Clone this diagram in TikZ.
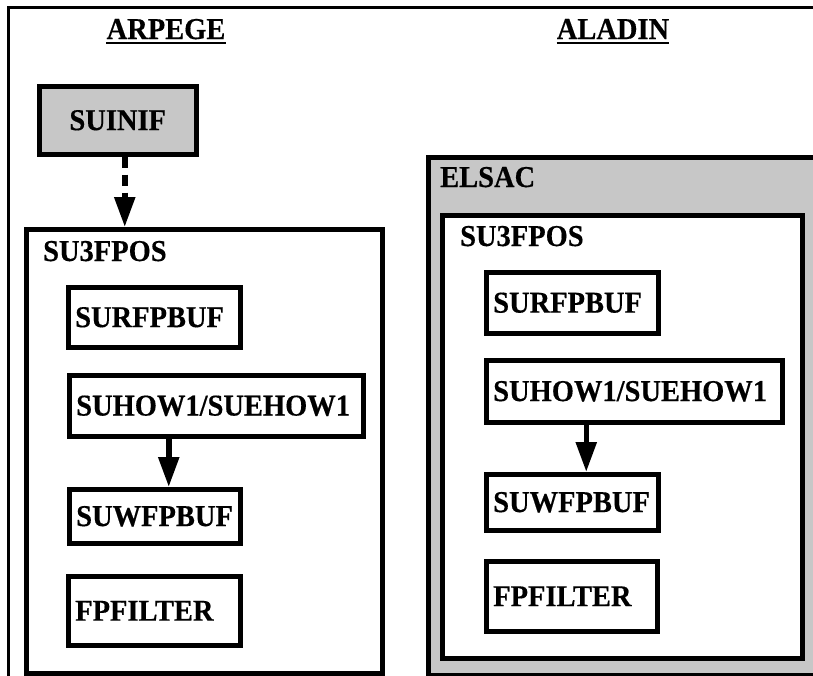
\documentclass[tikz,border=0pt]{standalone}
\usepackage{fontspec}
\setmainfont{Liberation Serif}[FakeStretch=0.94, BoldFeatures={FakeBold=0.4}]
\usetikzlibrary{arrows.meta}

\tikzset{
	txt/.style={font=\bfseries\fontsize{30.3}{36}\selectfont},
	modbox/.style={txt, draw, line width=4.5pt, anchor=north west, inner xsep=7pt, inner ysep=0pt, align=left, text width=#1},
	grpbox/.style={draw, line width=4.5pt, anchor=north west, inner sep=0pt},
	grplabel/.style={txt, anchor=base west, inner sep=0pt},
	title/.style={txt, anchor=base, inner sep=0pt},
	call/.style={line width=5.5pt, -{Triangle[length=30pt,width=20pt]}},
}

\begin{document}
\begin{tikzpicture}[x=1pt,y=-1pt]
	\useasboundingbox (0,0) rectangle (813,675);

	%frame
	\draw[line width=3pt] (8,676) -- (8,7) -- (814,7);

	%titles
	\node[title] (tarp) at (166,39) {ARPEGE};
	\node[title] (tala) at (613,39) {ALADIN};
	\draw[line width=2pt] ([yshift=-4pt]tarp.base west) -- ([yshift=-4pt]tarp.base east);
	\draw[line width=2pt] ([yshift=-4pt]tala.base west) -- ([yshift=-4pt]tala.base east);

	%ARPEGE side
	\node[grpbox, txt, fill=black!22, minimum width=157pt, minimum height=68pt] (suinif) at (37,84) {SUINIF};
	\node[grpbox, minimum width=356pt, minimum height=444pt] (lpos) at (24,227) {};
	\node[grplabel] (lposlab) at ([shift={(19,34)}]lpos.north west) {SU3FPOS};
	\node[modbox=158pt, minimum height=60pt] (lsurf) at (66,285) {SURFPBUF};
	\node[modbox=280pt, minimum height=61pt] (lhow) at (67,373) {SUHOW1/SUEHOW1};
	\node[modbox=157pt, minimum height=54pt] (lsuw) at (67,487) {SUWFPBUF};
	\node[modbox=158pt, minimum height=69pt] (lfilt) at (66,574) {FPFILTER};

	\draw[call, dash pattern=on 11pt off 7pt] ([xshift=7pt]suinif.south) -- ([xshift=7pt]suinif.south |- lpos.north);
	\draw[call] ([xshift=14pt]lsuw.north |- lhow.south) -- ([xshift=14pt]lsuw.north);

	%ALADIN side
	\node[grpbox, fill=black!22, minimum width=390pt, minimum height=518pt] (elsac) at (426,155) {};
	\node[grplabel] (elsaclab) at ([shift={(14,32)}]elsac.north west) {ELSAC};
	\node[grpbox, fill=white, minimum width=360pt, minimum height=443pt] (rpos) at (440,213) {};
	\node[grplabel] (rposlab) at ([shift={(20,33)}]rpos.north west) {SU3FPOS};
	\node[modbox=158pt, minimum height=61pt] (rsurf) at (484,270) {SURFPBUF};
	\node[modbox=282pt, minimum height=62pt] (rhow) at (484,358) {SUHOW1/SUEHOW1};
	\node[modbox=158pt, minimum height=56pt] (rsuw) at (484,472) {SUWFPBUF};
	\node[modbox=157pt, minimum height=70pt] (rfilt) at (484,559) {FPFILTER};

	\draw[call] ([xshift=14pt]rsuw.north |- rhow.south) -- ([xshift=14pt]rsuw.north);
\end{tikzpicture}
\end{document}
